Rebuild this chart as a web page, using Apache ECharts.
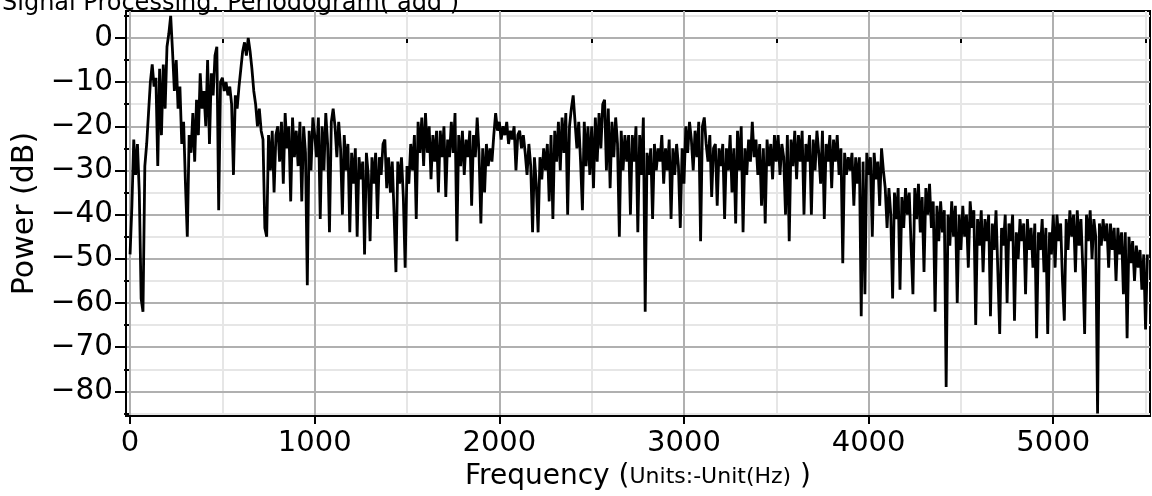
<!DOCTYPE html>
<html><head><meta charset="utf-8">
<script src="https://cdn.jsdelivr.net/npm/echarts@6/dist/echarts.min.js"></script>
<style>html,body{margin:0;padding:0;background:#fff;overflow:hidden}#c{width:1152px;height:496px}</style>
</head><body><div id="c"></div>
<script>
// ---- data ----
const freqStepHz = 10; // one value every 10 Hz, starting at 0 Hz
const powerDb = [
  -49,-38,-23,-31,-24,-35,-59,-62,-29,-24,
  -17,-10,-6,-11,-9,-29,-7,-22,-6,-16,
  -2,1,5,-3,-12,-5,-16,-11,-24,-19,
  -33,-45,-22,-26,-17,-28,-14,-22,-8,-16,
  -12,-20,-5,-24,-8,-13,-4,-2,-39,-10,
  -9,-12,-10,-13,-11,-15,-31,-13,-16,-11,
  -7,-3,-1,-4,0,-3,-7,-12,-15,-20,
  -16,-21,-23,-43,-45,-22,-30,-21,-35,-22,
  -20,-28,-19,-33,-17,-25,-20,-37,-18,-27,
  -21,-29,-19,-37,-20,-26,-56,-21,-30,-18,
  -22,-27,-18,-41,-20,-30,-17,-24,-44,-19,
  -16,-20,-27,-19,-25,-40,-22,-30,-24,-44,
  -26,-33,-25,-45,-27,-32,-28,-49,-26,-31,
  -46,-27,-33,-26,-41,-27,-31,-24,-23,-34,
  -27,-35,-28,-40,-53,-28,-33,-27,-36,-52,
  -29,-33,-24,-30,-22,-41,-19,-26,-18,-29,
  -17,-26,-20,-32,-22,-28,-21,-35,-21,-27,
  -20,-36,-23,-27,-19,-26,-17,-46,-22,-29,
  -21,-31,-23,-27,-21,-38,-22,-27,-18,-26,
  -42,-25,-35,-24,-29,-25,-28,-22,-17,-21,
  -19,-23,-20,-22,-19,-24,-21,-23,-20,-30,
  -22,-21,-25,-22,-26,-31,-24,-29,-44,-27,
  -33,-44,-27,-32,-25,-30,-24,-37,-22,-41,
  -21,-28,-19,-30,-18,-26,-17,-40,-20,-16,
  -13,-19,-25,-19,-28,-39,-19,-29,-20,-31,
  -20,-34,-18,-28,-17,-25,-15,-14,-30,-16,
  -34,-19,-27,-18,-24,-45,-21,-30,-22,-28,
  -22,-40,-22,-28,-20,-44,-22,-31,-18,-62,
  -26,-31,-25,-41,-24,-30,-25,-28,-22,-33,
  -25,-30,-23,-41,-25,-31,-24,-29,-43,-25,
  -33,-20,-26,-19,-23,-30,-21,-27,-19,-46,
  -20,-18,-24,-28,-22,-36,-25,-24,-38,-25,
  -29,-24,-41,-25,-30,-22,-35,-25,-42,-21,
  -30,-20,-44,-25,-31,-23,-28,-19,-27,-23,
  -31,-24,-38,-25,-42,-23,-29,-24,-32,-22,
  -28,-22,-31,-24,-27,-40,-22,-46,-23,-29,
  -21,-32,-22,-28,-21,-40,-24,-28,-22,-40,
  -23,-30,-21,-26,-33,-21,-41,-24,-28,-22,
  -34,-23,-28,-22,-31,-25,-51,-26,-31,-27,
  -30,-26,-38,-27,-33,-27,-63,-28,-58,-26,
  -31,-27,-45,-26,-32,-28,-38,-25,-30,-34,
  -43,-34,-40,-59,-35,-41,-34,-57,-36,-43,
  -34,-40,-35,-47,-58,-34,-41,-33,-44,-36,
  -53,-34,-40,-33,-43,-37,-62,-38,-46,-37,
  -44,-39,-79,-40,-47,-37,-45,-38,-60,-40,
  -48,-38,-45,-40,-52,-37,-43,-39,-65,-41,
  -47,-39,-53,-41,-46,-40,-63,-42,-48,-39,
  -53,-67,-43,-47,-40,-60,-42,-46,-40,-64,
  -44,-50,-41,-46,-42,-58,-41,-48,-43,-52,
  -42,-68,-44,-48,-41,-53,-43,-67,-44,-49,
  -40,-52,-40,-46,-42,-55,-64,-41,-48,-39,
  -45,-40,-53,-39,-47,-41,-52,-67,-40,-46,
  -39,-50,-41,-45,-85,-42,-47,-41,-46,-42,
  -52,-42,-48,-43,-55,-43,-49,-44,-58,-44,
  -68,-45,-51,-46,-55,-47,-52,-48,-57,-49,
  -66,-49
];
const xMajorTicks = [0, 1000, 2000, 3000, 4000, 5000];
const xMinorTicks = [500, 1500, 2500, 3500, 4500, 5500];
const yMajorTicks = [-80, -70, -60, -50, -40, -30, -20, -10, 0];
const yMinorTicks = [-85, -75, -65, -55, -45, -35, -25, -15, -5, 5];
const titleText = 'Signal Processing: Periodogram( add )';
const yTitle = 'Power (dB)';
const xTitleMain = 'Frequency (';
const xTitleUnit = 'Units:-Unit(Hz)';

// ---- chart ----
const seriesData = powerDb.map((v, i) => [i * freqStepHz, v]);
const FONT = 'DejaVu Sans';
const MAJOR = '#b0b0b0', MINOR = '#e6e6e6';
const xRange = { min: -22, max: 5524 };
const yRange = { min: -85.6, max: 6.1 };
const fmtY = v => (v < 0 ? '\u2212' + Math.abs(v) : String(v));
const fmtX = v => String(v);

const chart = echarts.init(document.getElementById('c'), null, { renderer: 'canvas' });
chart.setOption({
  animation: false,
  backgroundColor: '#fff',
  title: {
    text: titleText, left: -3, top: -13,
    textStyle: { fontFamily: FONT, fontSize: 24, fontWeight: 'normal', color: '#000' }
  },
  grid: {
    left: 126, top: 11, width: 1024, height: 406,
    show: true, borderColor: '#000', borderWidth: 2, backgroundColor: 'transparent', containLabel: false
  },
  xAxis: [
    {
      type: 'value', position: 'bottom', ...xRange,
      axisLine: { show: true, onZero: false, lineStyle: { color: '#000', width: 2 } },
      axisTick: { show: true, customValues: xMajorTicks, length: 8, lineStyle: { color: '#000', width: 2 } },
      axisLabel: { customValues: xMajorTicks, formatter: fmtX, margin: 13, fontFamily: FONT, fontSize: 29, color: '#000' },
      splitLine: { show: true, lineStyle: { color: MAJOR, width: 2 } },
      name: '{a|' + xTitleMain + '}{b|' + xTitleUnit + '}{a| )}',
      nameLocation: 'middle', nameGap: 43,
      nameTextStyle: {
        color: '#000',
        rich: {
          a: { fontFamily: FONT, fontSize: 28, color: '#000' },
          b: { fontFamily: FONT, fontSize: 22, color: '#000' }
        }
      },
      z: 3
    },
    {
      type: 'value', position: 'bottom', ...xRange,
      axisLine: { show: false },
      axisTick: { show: true, customValues: xMinorTicks, length: 5, lineStyle: { color: '#000', width: 2 } },
      axisLabel: { show: false },
      splitLine: { show: true, lineStyle: { color: MINOR, width: 2 } },
      z: 1
    }
  ],
  yAxis: [
    {
      type: 'value', position: 'left', ...yRange,
      axisLine: { show: true, onZero: false, lineStyle: { color: '#000', width: 2 } },
      axisTick: { show: true, customValues: yMajorTicks, length: 11, lineStyle: { color: '#000', width: 2 } },
      axisLabel: { customValues: yMajorTicks, margin: 13, formatter: fmtY, fontFamily: FONT, fontSize: 29.5, color: '#000' },
      splitLine: { show: true, lineStyle: { color: MAJOR, width: 2 } },
      name: yTitle, nameLocation: 'middle', nameGap: 80,
      nameTextStyle: { fontFamily: FONT, fontSize: 30, color: '#000' },
      z: 3
    },
    {
      type: 'value', position: 'left', ...yRange,
      axisLine: { show: false },
      axisTick: { show: true, customValues: yMinorTicks, length: 6, lineStyle: { color: '#000', width: 2 } },
      axisLabel: { show: false },
      splitLine: { show: true, lineStyle: { color: MINOR, width: 2 } },
      z: 1
    }
  ],
  series: [{
    type: 'line', xAxisIndex: 0, yAxisIndex: 0,
    data: seriesData, showSymbol: false, symbol: 'none',
    lineStyle: { color: '#000', width: 2.8 }, clip: true, z: 5,
    sampling: null
  }]
});
</script></body></html>
